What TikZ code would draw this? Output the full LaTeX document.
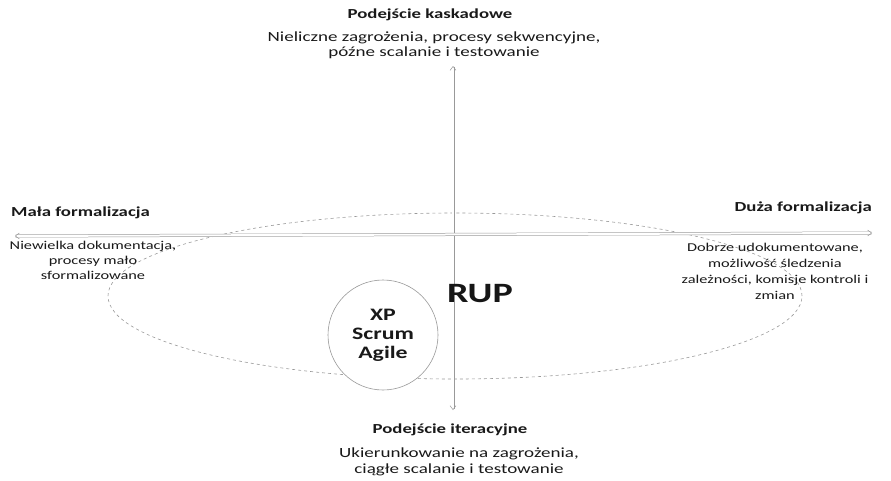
\documentclass[tikz,border=0pt]{standalone}
\usepackage{fontspec}
\setmainfont[FakeStretch=1.36]{Carlito}
\usetikzlibrary{arrows.meta,shapes.geometric}
\definecolor{ink}{gray}{0.1}
\definecolor{lineg}{gray}{0.6}
\begin{document}
\begin{tikzpicture}[x=1pt,y=-1pt,
  title/.style={font=\fontsize{13.8}{15}\selectfont\bfseries, text=ink, inner sep=0pt},
  desc/.style={text=ink, align=center, inner sep=0pt},
  axis/.style={draw=lineg, double=white, double distance=2pt, line width=0.5pt, {Straight Barb[length=4pt,width=6pt]}-{Straight Barb[length=4pt,width=6pt]}},
  oval/.style={draw=lineg, dashed, line width=0.6pt},
  circ/.style={draw=lineg, line width=0.6pt, circle, fill=white, minimum size=110pt, inner sep=0pt}
]
\useasboundingbox (0,0) rectangle (891,480);
% axes
\coordinate (vtop) at (453,66);
\coordinate (vbot) at (453,410);
\coordinate (hl) at (15,236);
\coordinate (hr) at (872,233);
\node[oval, ellipse, minimum width=694pt, minimum height=166pt, inner sep=0pt] (ov) at (455,296) {};
\draw[axis] (vtop) -- (vbot);
\draw[axis] (hl) -- (hr);
\node[circ, align=center, font=\fontsize{17.5}{19}\selectfont\bfseries, text=ink] (agile) at (383,335) {XP\\Scrum\\Agile};
\node[font=\fontsize{28}{30}\selectfont\bfseries, text=ink!85!black, inner sep=0pt] (rup) at (480,294) {RUP};
% labels
\node[title] (t1) at (430,15) {Podejście kaskadowe};
\node[desc, font=\fontsize{14}{15}\selectfont] (d1) at (434,45) {Nieliczne zagrożenia, procesy sekwencyjne,\\późne scalanie i testowanie};
\node[title, anchor=west] (t2) at (11,213) {Mała formalizacja};
\node[desc, font=\fontsize{12}{15}\selectfont] (d2) at (93,260) {Niewielka dokumentacja,\\procesy mało\\sformalizowane};
\node[title, anchor=east] (t3) at (872,208) {Duża formalizacja};
\node[desc, font=\fontsize{12}{16}\selectfont] (d3) at (775,271) {Dobrze udokumentowane,\\możliwość śledzenia\\zależności, komisje kontroli i\\zmian};
\node[title] (t4) at (450,430) {Podejście iteracyjne};
\node[desc, font=\fontsize{14}{16}\selectfont] (d4) at (459,462) {Ukierunkowanie na zagrożenia,\\ciągłe scalanie i testowanie};
\end{tikzpicture}
\end{document}
